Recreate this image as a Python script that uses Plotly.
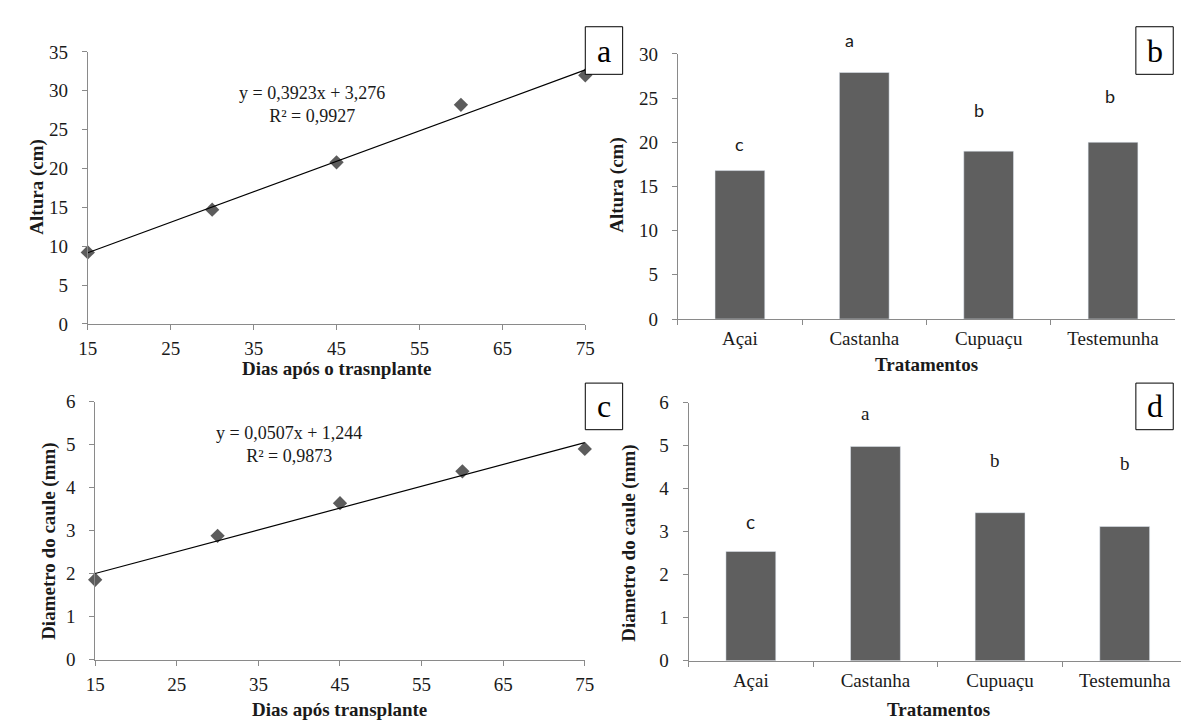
import plotly.graph_objects as go

# ---------------- data ----------------
dias = [15, 30, 45, 60, 75]
altura_dias = [9.2, 14.7, 20.8, 28.2, 32.0]
diametro_dias = [1.86, 2.88, 3.64, 4.38, 4.90]

trat = ["Açai", "Castanha", "Cupuaçu", "Testemunha"]
altura_trat = [16.8, 27.9, 19.0, 20.0]
diametro_trat = [2.54, 4.98, 3.44, 3.12]
letras_altura = ["c", "a", "b", "b"]
letras_diametro = ["c", "a", "b", "b"]

# regression coefficients (from the chart's equations)
coef_a = (0.3923, 3.276)
coef_c = (0.0507, 1.244)

# ---------------- style ----------------
W, H = 1189, 724
SERIF = "Liberation Serif, Times New Roman, serif"
SANS = "Lato, Open Sans, sans-serif"
TXT = "#1a1a1a"
AX = "#8a8a8a"
BAR = "#5f5f5f"
MARK = "#5c5c5c"
FS = 19


def px_x(p):
    return p / W


def px_y(p):
    return 1 - p / H


fig = go.Figure()

# panel a
fig.add_trace(go.Scatter(x=dias, y=altura_dias, mode="markers",
                         marker=dict(symbol="diamond", size=11, color=MARK),
                         xaxis="x", yaxis="y", showlegend=False, cliponaxis=False))
fig.add_trace(go.Scatter(x=[dias[0], dias[-1]],
                         y=[coef_a[0] * dias[0] + coef_a[1], coef_a[0] * dias[-1] + coef_a[1]],
                         mode="lines", line=dict(color="black", width=1.2),
                         xaxis="x", yaxis="y", showlegend=False))
# panel b
fig.add_trace(go.Bar(x=trat, y=altura_trat, marker_color=BAR, width=0.4,
                     xaxis="x2", yaxis="y2", showlegend=False))
# panel c
fig.add_trace(go.Scatter(x=dias, y=diametro_dias, mode="markers",
                         marker=dict(symbol="diamond", size=11, color=MARK),
                         xaxis="x3", yaxis="y3", showlegend=False, cliponaxis=False))
fig.add_trace(go.Scatter(x=[dias[0], dias[-1]],
                         y=[coef_c[0] * dias[0] + coef_c[1], coef_c[0] * dias[-1] + coef_c[1]],
                         mode="lines", line=dict(color="black", width=1.2),
                         xaxis="x3", yaxis="y3", showlegend=False))
# panel d
fig.add_trace(go.Bar(x=trat, y=diametro_trat, marker_color=BAR, width=0.4,
                     xaxis="x4", yaxis="y4", showlegend=False))

tickfont = dict(family=SERIF, size=FS, color=TXT)
common = dict(showline=True, linecolor=AX, linewidth=1, ticks="outside",
              ticklen=5, tickcolor=AX, showgrid=False, zeroline=False,
              tickfont=tickfont)
xc = dict(common, ticklabelstandoff=2)
yc = dict(common, ticklabelstandoff=10)

layout = dict(
    width=W, height=H, margin=dict(l=0, r=0, t=0, b=0),
    plot_bgcolor="white", paper_bgcolor="white",
    xaxis=dict(domain=[px_x(71), px_x(577)], range=[15, 75], tickvals=[15, 25, 35, 45, 55, 65, 75],
               anchor="y", **xc),
    yaxis=dict(domain=[px_y(315), px_y(35)], range=[0, 35], dtick=5, anchor="x", **yc),
    xaxis2=dict(domain=[px_x(671), px_x(1177)], range=[-0.5, 3.5], tickson="boundaries",
                anchor="y2", **xc),
    yaxis2=dict(domain=[px_y(310), px_y(37)], range=[0, 30], dtick=5, anchor="x2", **yc),
    xaxis3=dict(domain=[px_x(78.5), px_x(576.5)], range=[15, 75], tickvals=[15, 25, 35, 45, 55, 65, 75],
                anchor="y3", **xc),
    yaxis3=dict(domain=[px_y(661), px_y(395)], range=[0, 6], dtick=1, anchor="x3", **yc),
    xaxis4=dict(domain=[px_x(682), 1.0], range=[-0.5, 3.5], tickson="boundaries",
                anchor="y4", **xc),
    yaxis4=dict(domain=[px_y(662), px_y(396)], range=[0, 6], dtick=1, anchor="x4", **yc),
)
fig.update_layout(**layout)

ann = []
titlefont = dict(family=SERIF, size=FS, color=TXT)


def paper_text(x, y, text, font, angle=0):
    ann.append(dict(x=px_x(x), y=px_y(y), xref="paper", yref="paper", text=text,
                    showarrow=False, font=font, textangle=angle,
                    xanchor="center", yanchor="middle"))


# axis titles
paper_text(324, 361, "<b>Dias após o trasnplante</b>", titlefont)
paper_text(924, 357, "<b>Tratamentos</b>", titlefont)
paper_text(327, 712, "<b>Dias após transplante</b>", titlefont)
paper_text(936, 712, "<b>Tratamentos</b>", titlefont)
paper_text(19, 174, "<b>Altura (cm)</b>", titlefont, -90)
paper_text(609, 172, "<b>Altura (cm)</b>", titlefont, -90)
paper_text(32, 538, "<b>Diametro do caule (mm)</b>", titlefont, -90)
paper_text(622, 541, "<b>Diametro do caule (mm)</b>", titlefont, -90)

# regression equations
eqfont = dict(family=SERIF, size=18, color=TXT)
paper_text(299, 89, "y = 0,3923x + 3,276<br>R² = 0,9927", eqfont)
paper_text(276, 439, "y = 0,0507x + 1,244<br>R² = 0,9873", eqfont)

# significance letters (anchored on bar tops, lifted by a pixel offset)
lift_b = [27, 32, 41, 46]
shift_b = [0, -15, -10, -3]
for cat, val, let, ys, xs in zip(trat, altura_trat, letras_altura, lift_b, shift_b):
    ann.append(dict(x=cat, y=val, xref="x2", yref="y2", text=let, showarrow=False,
                    yanchor="middle", xshift=xs, yshift=ys,
                    font=dict(family=SANS, size=18, color=TXT)))
lift_d = [30, 33, 52, 63]
shift_d = [0, -10, -5, 0]
fams_d = [SANS, SERIF, SERIF, SERIF]
for cat, val, let, ys, xs, fam in zip(trat, diametro_trat, letras_diametro, lift_d, shift_d, fams_d):
    ann.append(dict(x=cat, y=val, xref="x4", yref="y4", text=let, showarrow=False,
                    yanchor="middle", xshift=xs, yshift=ys,
                    font=dict(family=fam, size=19, color=TXT)))

# panel letter boxes
shapes = []
boxes = [("a", 577, 9, 615, 58), ("b", 1137, 9, 1175, 58),
         ("c", 577, 376, 615, 424), ("d", 1137, 376, 1175, 424)]
for lab, x0, y0, x1, y1 in boxes:
    shapes.append(dict(type="rect", xref="paper", yref="paper",
                       x0=px_x(x0), x1=px_x(x1), y0=px_y(y1), y1=px_y(y0),
                       line=dict(color="black", width=1), fillcolor="white"))
    paper_text((x0 + x1) / 2, (y0 + y1) / 2, lab, dict(family=SERIF, size=32, color="black"))

fig.update_layout(annotations=ann, shapes=shapes)
fig.write_html("out.html")
